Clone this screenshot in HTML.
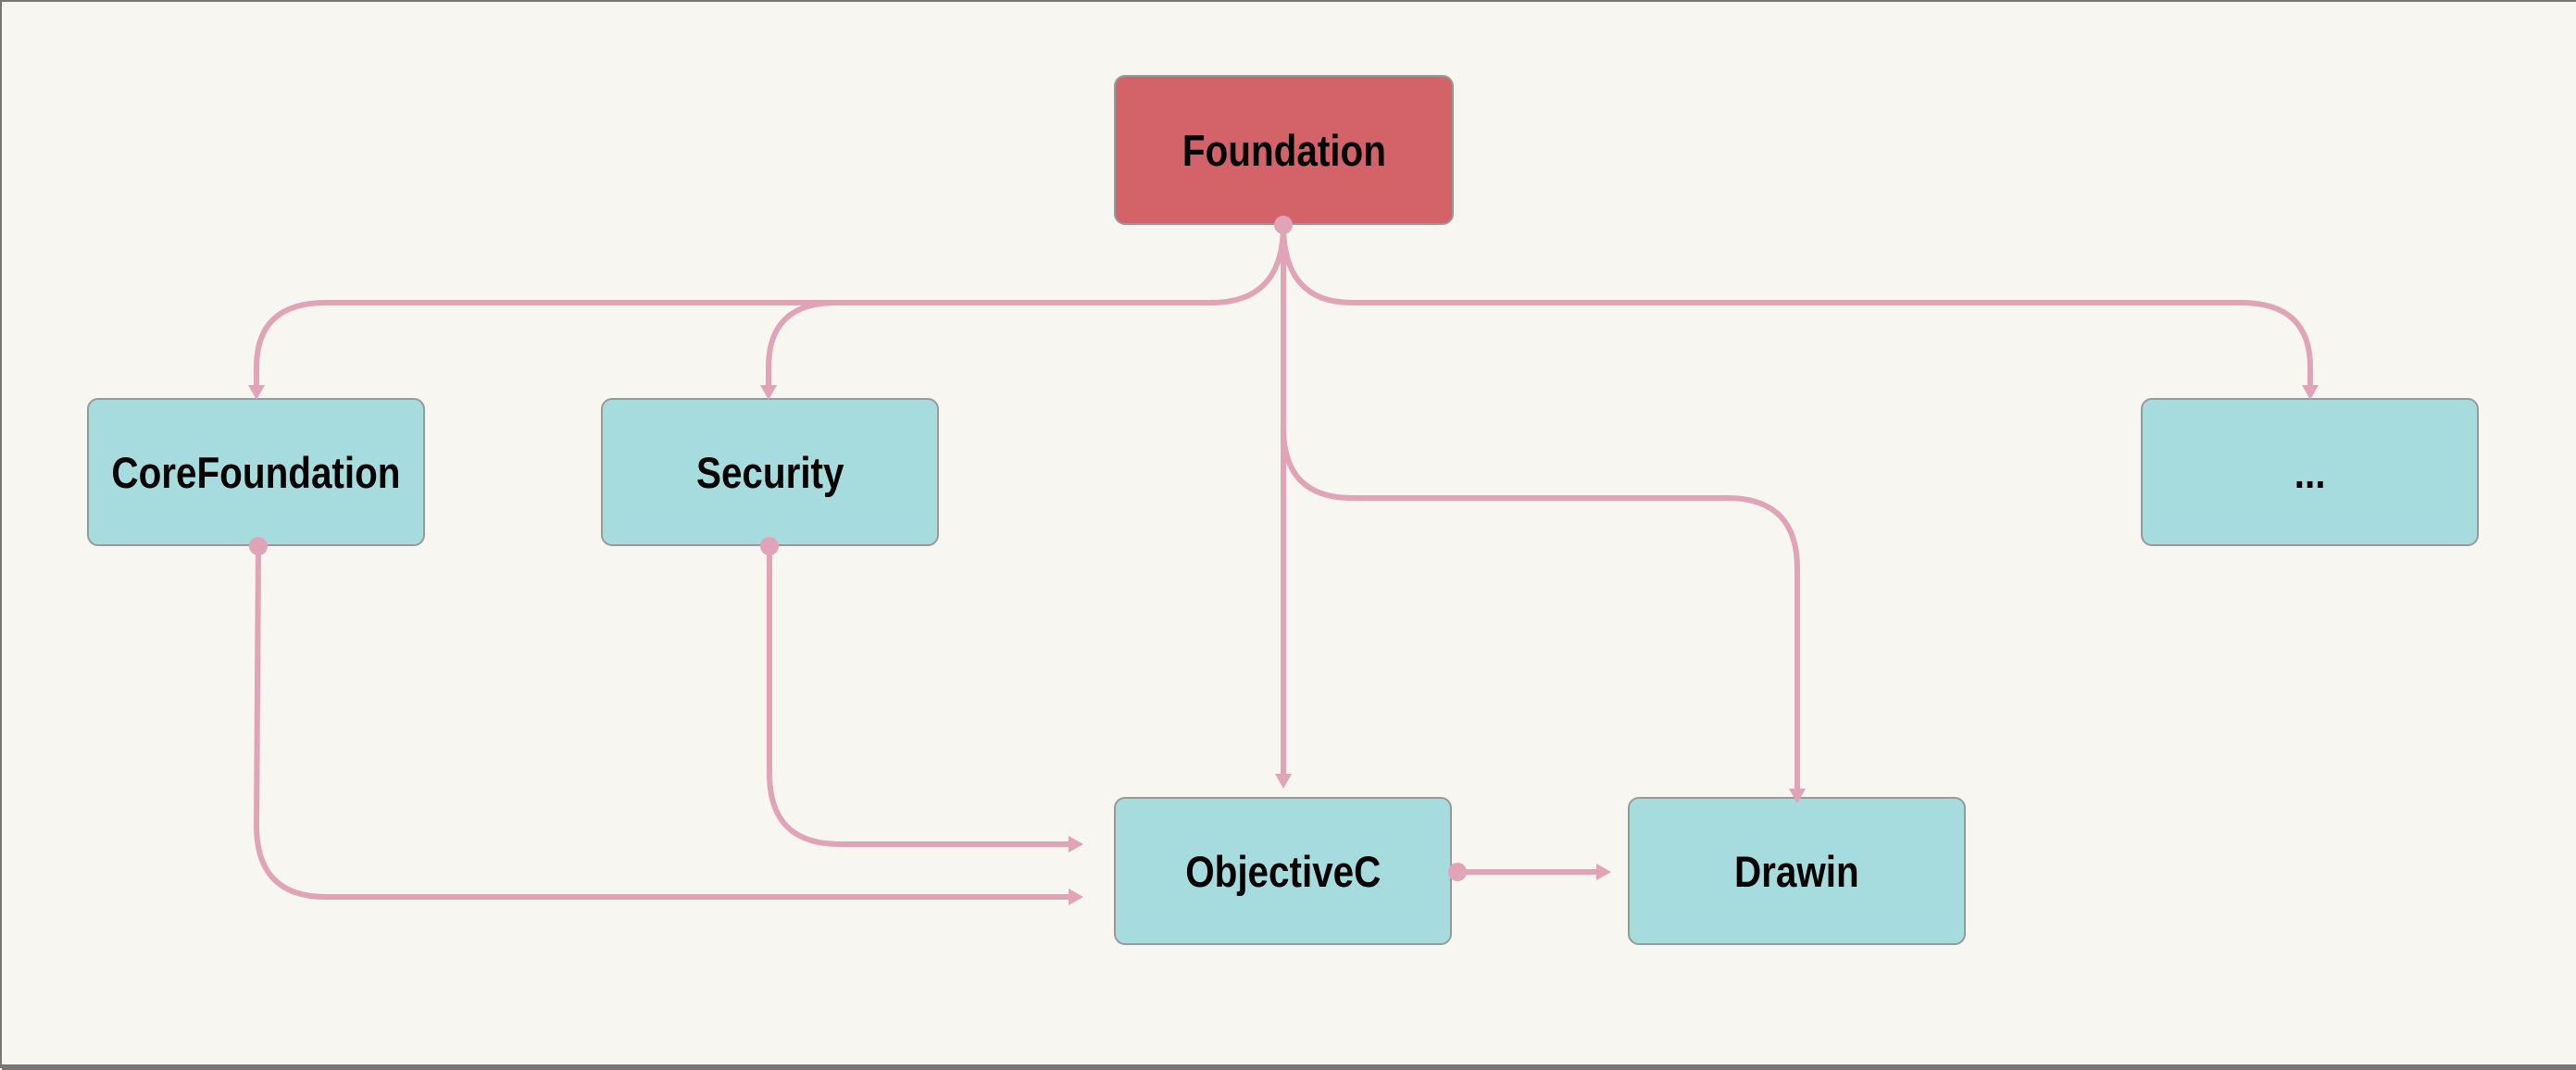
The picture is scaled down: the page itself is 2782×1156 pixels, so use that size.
<!DOCTYPE html>
<html><head><meta charset="utf-8"><style>
html,body{margin:0;padding:0;background:#f7f6f0;}
body{width:2782px;height:1154px;overflow:hidden;position:relative;border-left:2px solid #777;border-top:2px solid #777;box-sizing:border-box;}
.n{position:absolute;width:365px;height:160px;border:2px solid #999;border-radius:12px;box-sizing:border-box;background:#a7dcde;display:flex;align-items:center;justify-content:center;font-family:"Liberation Sans",sans-serif;font-weight:bold;font-size:47px;color:#000;}
.n span{display:inline-block;transform:scaleX(0.86);white-space:nowrap;}
svg{position:absolute;left:0;top:0;z-index:2;}
</style></head><body>
<div class="n" style="left:1201px;top:79px;width:367px;height:162px;background:#d46269;"><span>Foundation</span></div>
<div class="n" style="left:92px;top:428px;"><span>CoreFoundation</span></div>
<div class="n" style="left:647px;top:428px;"><span>Security</span></div>
<div class="n" style="left:2310px;top:428px;"><span>...</span></div>
<div class="n" style="left:1201px;top:859px;"><span>ObjectiveC</span></div>
<div class="n" style="left:1756px;top:859px;"><span>Drawin</span></div>
<svg width="2782" height="1154" viewBox="0 0 2782 1154">
<g fill="none" stroke="#e0a3b8" stroke-width="6">
<path d="M1384 241 Q1384 325 1306 325 L350 325 Q275 325 275 395 L275 418"/>
<path d="M901 325 Q828 325 828 395 L828 418"/>
<path d="M1384 241 Q1384 325 1458 325 L2418 325 Q2493 325 2493 395 L2493 418"/>
<path d="M1384 241 L1384 838"/>
<path d="M1384 460 Q1384 536 1458 536 L1863 536 Q1939 536 1939 612 L1939 855"/>
<path d="M829 588 L829 834 Q829 910 905 910 L1156 910"/>
<path d="M277 588 L275 890 Q275 967 350 967 L1156 967"/>
<path d="M1572 940 L1725 940"/>
</g>
<g fill="#e0a3b8">
<circle cx="1384" cy="241" r="10"/><circle cx="277" cy="588" r="10"/><circle cx="829" cy="588" r="10"/><circle cx="1572" cy="940" r="10"/>
<polygon points="266,414 284,414 275,430"/>
<polygon points="819,414 837,414 828,430"/>
<polygon points="2484,414 2502,414 2493,430"/>
<polygon points="1375,834 1393,834 1384,850"/>
<polygon points="1930,850 1948,850 1939,866"/>
<polygon points="1152,901 1152,919 1168,910"/>
<polygon points="1152,958 1152,976 1168,967"/>
<polygon points="1722,931 1722,949 1738,940"/>
</g>
</svg>
<div style="position:absolute;left:0;top:1148px;width:2782px;height:6px;background:#777;"></div>
</body></html>
